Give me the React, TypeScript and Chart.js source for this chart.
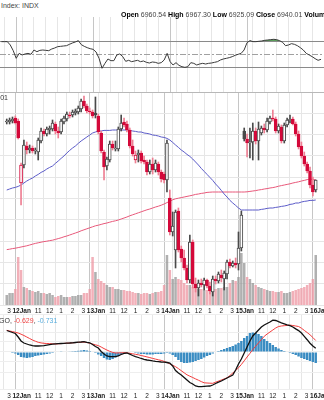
import React, { useEffect, useRef } from 'react';
import { Chart, registerables } from 'chart.js';
Chart.register(...registerables);

const FONT = '"Liberation Sans", Arial, Helvetica, sans-serif';

// ---- time axis (15-minute bars, 26 per session) ----
const FIRST_BAR = -5;
const BAR_COUNT = 109;
const BARS_PER_DAY = 26;
const DAY_LABELS = ['9Jan', '12Jan', '13Jan', '14Jan', '15Jan', '16Jan'];
const HOUR_OFFSETS = [0, 2, 6, 10, 14, 18, 22];
const HOUR_LABELS = ['', '', '11', '12', '1', '2', '3'];
const X_MIN = -5.47;
const X_MAX = 104.0;

// ---- price data ----
const OPEN = [6969, 6969, 6969.5, 6971, 6969.5, 6938.5, 6947.5, 6957, 6955, 6956, 6954.5, 6954, 6959.5, 6964.5, 6963, 6965, 6965.5, 6968, 6964.5, 6964, 6969, 6970.5, 6972.5, 6972.5, 6973.5, 6974, 6975.5, 6979.5, 6977, 6974.5, 6974, 6973.5, 6972, 6963.5, 6954, 6947, 6950, 6958, 6955.5, 6955.5, 6965.5, 6969, 6968, 6965, 6957, 6950, 6952.5, 6953.5, 6950, 6949, 6944, 6948, 6945, 6948, 6944, 6943, 6940, 6931, 6914, 6905, 6924.5, 6905.5, 6901, 6896, 6890, 6909, 6888, 6886, 6888.5, 6887.5, 6890, 6887, 6884, 6890.5, 6889.5, 6892.5, 6890.5, 6893, 6899, 6897, 6898.5, 6898, 6906, 6964.5, 6960.5, 6958.5, 6959, 6964.5, 6959.5, 6963.5, 6966, 6965, 6969, 6971, 6970.5, 6964.5, 6966.5, 6959.5, 6967.5, 6969.5, 6970.5, 6968, 6963, 6957, 6952, 6948, 6944.5, 6937.5, 6935];
const HIGH = [6970.5, 6971, 6971.5, 6972, 6970.5, 6948.5, 6960, 6959, 6957.5, 6957, 6956, 6961, 6966, 6965.5, 6966.5, 6967, 6970, 6969, 6966.5, 6970.5, 6972, 6974, 6974, 6975, 6975.5, 6977, 6980.5, 6982, 6978, 6976, 6975, 6981.5, 6973, 6964.5, 6955, 6951.5, 6959.5, 6959.5, 6959.5, 6966.5, 6972.5, 6971, 6969.5, 6966, 6960, 6954.5, 6955, 6954.5, 6952, 6950, 6950, 6951, 6950, 6949, 6945, 6944, 6960, 6935, 6924, 6925, 6926, 6907, 6905, 6897.5, 6912.5, 6910, 6891, 6890, 6890.5, 6891, 6890.5, 6889, 6892, 6892, 6894, 6895, 6894.5, 6900, 6900.5, 6899.5, 6901, 6914, 6924.5, 6966, 6963, 6966, 6968.5, 6966, 6969, 6967, 6968, 6971, 6972, 6975, 6971.5, 6968, 6967.5, 6968.5, 6971, 6972.5, 6971.5, 6969, 6964.5, 6959, 6954, 6949, 6946.5, 6941.5, 6940];
const LOW = [6968, 6968, 6968.5, 6968, 6960.5, 6927.5, 6946, 6953, 6953.5, 6953.5, 6953, 6950, 6958.5, 6962, 6962, 6963, 6964.5, 6963, 6961, 6963, 6968, 6969.5, 6971, 6971.5, 6972.5, 6973, 6974, 6976, 6973.5, 6973, 6971, 6971, 6963, 6953.5, 6940, 6945, 6949, 6955, 6954.5, 6954.5, 6964.5, 6966.5, 6964, 6956, 6952, 6948.5, 6949, 6948.5, 6948, 6942.5, 6943, 6943, 6944, 6942.5, 6939, 6938.5, 6934, 6912.5, 6912, 6896, 6904, 6899, 6895, 6888.5, 6888.5, 6886, 6884, 6882, 6886.5, 6885, 6886, 6883, 6882, 6888, 6888.5, 6889, 6885, 6890.5, 6896, 6896.5, 6896, 6895, 6904.5, 6959.5, 6951.5, 6951, 6950, 6958, 6950, 6962.5, 6963.5, 6964, 6968, 6969.5, 6963.5, 6963.5, 6958.5, 6958.5, 6966.5, 6968.5, 6967.5, 6962, 6955.5, 6951, 6947, 6943.5, 6936, 6932, 6934];
const CLOSE = [6969.5, 6970, 6970.5, 6968.5, 6961, 6947.5, 6957.5, 6955, 6956, 6954.5, 6955, 6960, 6964.5, 6963, 6965.5, 6966, 6968.5, 6964.5, 6963.5, 6969.5, 6971, 6973, 6972, 6974, 6974.5, 6976, 6979.5, 6977, 6974.5, 6974, 6972, 6972.5, 6964, 6954.5, 6946.5, 6950.5, 6958, 6956, 6956, 6965.5, 6968.5, 6967.5, 6965, 6957, 6953, 6952.5, 6953.5, 6949.5, 6949, 6944, 6948, 6945, 6948.5, 6944, 6940.5, 6940, 6958.5, 6914, 6917, 6924, 6905, 6901, 6896, 6890, 6909, 6888, 6886, 6888.5, 6887.5, 6890, 6887, 6884.5, 6890.5, 6889.5, 6893, 6891, 6893.5, 6899, 6897, 6898.5, 6897.5, 6906, 6922.5, 6960.5, 6958.5, 6959, 6964.5, 6959.5, 6965.5, 6966, 6965, 6969.5, 6971, 6970.5, 6964.5, 6967, 6959.5, 6967.5, 6970, 6970.5, 6968, 6963, 6956.5, 6952, 6948, 6944.5, 6937.5, 6934, 6940];
const SMA50 = [6935, 6935.5, 6936, 6936.3, 6936.8, 6937.5, 6938.5, 6939.5, 6940.3, 6941, 6942, 6942.8, 6943.8, 6944.5, 6945.5, 6946.3, 6947, 6948.3, 6949.5, 6950.8, 6952, 6953.5, 6954.8, 6956, 6957, 6958.3, 6959.5, 6960.5, 6961.5, 6962.5, 6963.5, 6964, 6964.5, 6964.5, 6964.8, 6964.8, 6964.8, 6965, 6965, 6965, 6965, 6965, 6965, 6964.8, 6964.5, 6964.3, 6964, 6964, 6963.5, 6963.3, 6963, 6962.5, 6962.3, 6962, 6961.5, 6961.3, 6960.8, 6960, 6958.8, 6957.5, 6956.3, 6955, 6954, 6952.8, 6951.8, 6950.5, 6949, 6947.5, 6945.8, 6944.3, 6942.8, 6941.3, 6939.8, 6938, 6936.5, 6934.8, 6933, 6931.5, 6929.8, 6928.5, 6927.3, 6926, 6925, 6925, 6925, 6925, 6925, 6925, 6925, 6925.3, 6925.5, 6925.8, 6926, 6926, 6926.3, 6926.5, 6926.8, 6927, 6927.3, 6927.8, 6928, 6928.5, 6928.5, 6929, 6929.3, 6929.5, 6929.8, 6929.8, 6930];
const SMA200 = [6905.2, 6905.4, 6905.7, 6905.9, 6906.2, 6906.5, 6906.8, 6907.1, 6907.5, 6907.9, 6908.3, 6908.6, 6908.9, 6909.2, 6909.4, 6909.7, 6909.9, 6910.3, 6910.7, 6911.1, 6911.6, 6912, 6912.5, 6913, 6913.5, 6914, 6914.6, 6915.1, 6915.6, 6916.1, 6916.6, 6917.1, 6917.4, 6917.8, 6918.2, 6918.5, 6918.9, 6919.3, 6919.6, 6920, 6920.5, 6921, 6921.5, 6922.1, 6922.6, 6923.1, 6923.6, 6924.1, 6924.6, 6925.1, 6925.5, 6926, 6926.5, 6926.9, 6927.4, 6928, 6928.7, 6929.4, 6930.1, 6930.6, 6930.9, 6931.2, 6931.5, 6931.8, 6932.1, 6932.4, 6932.8, 6933, 6933.3, 6933.5, 6933.8, 6933.9, 6934, 6934, 6934, 6934, 6934, 6934, 6934, 6934, 6934, 6934, 6934, 6934, 6934.1, 6934.3, 6934.5, 6934.7, 6935, 6935.2, 6935.5, 6935.7, 6936, 6936.2, 6936.5, 6936.9, 6937.2, 6937.5, 6937.8, 6938.1, 6938.5, 6938.8, 6939.1, 6939.5, 6939.8, 6940.2, 6940.5, 6940.3, 6940.1];
const VOLUME = [100, 120, 120, 160, 480, 350, 180, 170, 150, 140, 130, 140, 120, 120, 110, 120, 100, 80, 90, 100, 80, 80, 80, 90, 90, 100, 100, 120, 120, 160, 480, 330, 260, 240, 220, 200, 180, 180, 160, 160, 150, 150, 140, 140, 130, 120, 120, 110, 120, 120, 110, 120, 130, 130, 140, 200, 500, 350, 260, 280, 260, 250, 220, 200, 200, 180, 180, 160, 160, 150, 150, 160, 150, 160, 170, 170, 180, 180, 220, 250, 240, 280, 520, 420, 280, 260, 220, 200, 180, 170, 160, 150, 140, 140, 130, 130, 140, 120, 120, 130, 140, 150, 160, 170, 180, 200, 220, 260, 500];

// ---- indicators ----
const RSI = [69.2, 69.2, 69.2, 64.2, 55.7, 44.3, 51.7, 49.3, 50.8, 51.7, 50.3, 56.7, 54.2, 56.2, 56.7, 56.2, 55.7, 58.2, 59.7, 61.7, 62.2, 62.7, 63.2, 65.2, 67.2, 68.7, 70.7, 64.7, 62.2, 60.2, 58.7, 57.7, 53.7, 44.3, 29.4, 36.8, 43.3, 40.8, 40.8, 49.3, 50.8, 46.8, 39.8, 41.3, 39.3, 40.3, 41.3, 39.3, 40.3, 38.3, 37.3, 38.8, 38.3, 36.8, 37.8, 41.8, 51.7, 39.3, 34.3, 37.8, 33.8, 31.8, 30.8, 31.8, 37.8, 36.8, 34.3, 35.8, 36.8, 35.8, 36.8, 37.3, 38.3, 39.3, 41.8, 43.3, 44.3, 45.3, 46.8, 48.8, 50.3, 51.7, 56.7, 67.7, 70.7, 69.2, 69.2, 69.7, 70.2, 71.2, 71.7, 72.2, 72.7, 72.2, 70.7, 68.2, 63.2, 64.2, 66.2, 65.2, 63.2, 60.2, 56.7, 51.7, 49.3, 46.8, 43.8, 41.3, 42.8];
const MACD = [2.15, 2.05, 1.95, 1.85, 1.5, 1.1, 0.9, 0.8, 0.7, 0.63, 0.6, 0.6, 0.62, 0.63, 0.68, 0.73, 0.78, 0.81, 0.83, 0.85, 0.87, 0.89, 0.9, 0.92, 0.95, 0.98, 1.0, 1.03, 0.97, 0.92, 0.75, 0.55, 0.4, 0.05, -0.2, -0.4, -0.47, -0.47, -0.47, -0.38, -0.25, -0.13, -0.1, -0.22, -0.35, -0.46, -0.55, -0.65, -0.73, -0.8, -0.84, -0.89, -0.93, -0.96, -1.0, -1.02, -1.05, -1.1, -1.4, -1.85, -2.1, -2.3, -2.55, -2.8, -3.05, -3.2, -3.4, -3.47, -3.46, -3.44, -3.42, -3.4, -3.3, -3.15, -3.02, -2.9, -2.75, -2.6, -2.45, -2.3, -1.8, -1.2, -0.7, -0.1, 0.5, 1.1, 1.6, 1.9, 2.2, 2.5, 2.7, 2.85, 3.0, 3.18, 3.15, 3.03, 2.92, 2.82, 2.72, 2.63, 2.5, 2.31, 2.14, 1.9, 1.56, 1.23, 0.88, 0.6, 0.37];
const SIGNAL = [2.17, 2.1, 2.04, 1.97, 1.9, 1.78, 1.65, 1.5, 1.35, 1.2, 1.08, 0.97, 0.91, 0.87, 0.85, 0.84, 0.82, 0.8, 0.82, 0.84, 0.86, 0.88, 0.9, 0.92, 0.94, 0.96, 0.98, 0.99, 0.95, 0.88, 0.8, 0.72, 0.64, 0.5, 0.34, 0.2, 0.07, -0.04, -0.1, -0.09, -0.08, -0.07, -0.08, -0.13, -0.18, -0.23, -0.28, -0.35, -0.42, -0.49, -0.56, -0.64, -0.71, -0.78, -0.84, -0.94, -1.05, -1.19, -1.33, -1.47, -1.66, -1.87, -2.08, -2.28, -2.42, -2.55, -2.69, -2.82, -2.96, -3.08, -3.1, -3.12, -3.13, -3.02, -2.91, -2.8, -2.69, -2.58, -2.35, -2.1, -1.85, -1.58, -1.25, -0.88, -0.5, -0.14, 0.24, 0.58, 0.91, 1.24, 1.57, 1.8, 2.0, 2.2, 2.4, 2.55, 2.6, 2.63, 2.66, 2.69, 2.65, 2.6, 2.55, 2.38, 2.16, 1.95, 1.72, 1.45, 1.15];
const HIST = [0, -0.05, -0.1, -0.15, -0.3, -0.5, -0.55, -0.6, -0.55, -0.5, -0.4, -0.35, -0.3, -0.25, -0.2, -0.15, -0.1, -0.05, 0, 0.03, 0.05, 0.05, 0.06, 0.08, 0.1, 0.12, 0.15, 0.2, 0.15, 0.1, 0.05, -0.1, -0.25, -0.4, -0.6, -0.75, -0.8, -0.7, -0.55, -0.4, -0.25, -0.1, 0.05, 0.05, -0.05, -0.1, -0.15, -0.2, -0.2, -0.25, -0.25, -0.25, -0.2, -0.2, -0.2, -0.15, -0.1, -0.15, -0.3, -0.5, -0.8, -1.0, -1.1, -1.1, -1.05, -1.0, -0.9, -0.8, -0.7, -0.55, -0.4, -0.3, -0.15, 0, 0.1, 0.2, 0.3, 0.4, 0.5, 0.6, 0.75, 0.9, 1.1, 1.4, 1.6, 1.9, 1.95, 1.9, 1.8, 1.6, 1.3, 1.1, 0.9, 0.7, 0.5, 0.35, 0.2, 0.1, 0, -0.1, -0.2, -0.3, -0.45, -0.6, -0.7, -0.8, -0.9, -1.0, -1.1];

const RSI_LEVELS = [30, 70];
const RSI_MID = 50;

// ---- derived helpers ----
const BARS = Array.from({ length: BAR_COUNT }, (_, i) => FIRST_BAR + i);
const TICKS: { v: number; label: string; day: boolean }[] = [];
DAY_LABELS.forEach((d, di) => {
  HOUR_OFFSETS.forEach((h, hi) => {
    const v = (di - 1) * BARS_PER_DAY + h;
    if (v >= X_MIN && v <= X_MAX + 0.01) TICKS.push({ v, label: hi === 0 ? d : HOUR_LABELS[hi], day: hi === 0 });
  });
});
const tickInfo = (v: number) => TICKS.find((t) => Math.abs(t.v - v) < 1e-6);
// small visual nudges: day labels sit a touch right of their line, "3" a touch left
const tickText = (t: { label: string; day: boolean } | undefined) => {
  if (!t) return '';
  if (t.day) return '\u2009' + t.label;
  if (t.label === '3') return t.label + '\u2009';
  return t.label;
};

const RED = '#d4093a';
const RED_WICK = '#ee7f93';
const DARK = '#4a4a4a';

function xScale(showLabels: boolean, labelHeight: number, pad: number): any {
  return {
    type: 'linear',
    min: X_MIN,
    max: X_MAX,
    afterBuildTicks: (s: any) => {
      s.ticks = TICKS.map((t) => ({ value: t.v }));
    },
    afterFit: (s: any) => {
      s.height = labelHeight;
      s.paddingLeft = 0;
      s.paddingRight = 0;
    },
    border: { display: false },
    grid: {
      drawTicks: false,
      lineWidth: 1,
      color: (c: any) => (c.tick && tickInfo(c.tick.value)?.day ? '#c6c6c6' : '#e6e6e6'),
    },
    ticks: {
      display: showLabels,
      autoSkip: false,
      maxRotation: 0,
      padding: pad,
      color: '#222',
      font: (c: any) => ({ family: FONT, size: 6.5, weight: c.tick && tickInfo(c.tick.value)?.day ? 'bold' : 'normal' }),
      callback: (v: any) => tickText(tickInfo(Number(v))),
    },
  };
}

const baseOpts = {
  animation: false as const,
  responsive: false,
  events: [] as any[],
  layout: { padding: 0 },
  plugins: { legend: { display: false }, tooltip: { enabled: false } },
};

export default function App() {
  const rsiRef = useRef<HTMLCanvasElement>(null);
  const priceRef = useRef<HTMLCanvasElement>(null);
  const macdRef = useRef<HTMLCanvasElement>(null);

  useEffect(() => {
    Chart.defaults.font.family = FONT;
    const charts: Chart[] = [];

    // RSI panel
    charts.push(
      new Chart(rsiRef.current!, {
        type: 'line',
        data: {
          datasets: [
            {
              data: BARS.map((b, i) => ({ x: b, y: RSI[i] })),
              borderColor: '#3a3a3a',
              borderWidth: 1,
              pointRadius: 0,
              fill: { target: { value: 70 }, above: '#5b9e5b', below: 'rgba(0,0,0,0)' },
              order: 1,
            } as any,
            {
              data: [
                { x: X_MIN, y: RSI_MID },
                { x: X_MAX, y: RSI_MID },
              ],
              borderColor: '#a0a0a0',
              borderWidth: 1,
              borderDash: [6, 2, 2, 2],
              pointRadius: 0,
              order: 2,
            },
          ],
        },
        options: {
          ...baseOpts,
          scales: {
            x: xScale(false, 0, 0),
            y: {
              type: 'linear',
              min: -6,
              max: 106,
              position: 'right',
              afterBuildTicks: (s: any) => {
                s.ticks = RSI_LEVELS.map((v) => ({ value: v }));
              },
              afterFit: (s: any) => {
                s.width = 0;
              },
              ticks: { display: false },
              border: { display: false },
              grid: { drawTicks: false, color: '#8a8a8a' },
            },
          },
        } as any,
      })
    );

    // Price + volume panel
    const colorOf = (i: number) => {
      const prev = i > 0 ? CLOSE[i - 1] : OPEN[i];
      return CLOSE[i] >= prev ? 'dark' : 'red';
    };
    const PMIN = 6877.5;
    const PMAX = 6984;
    charts.push(
      new Chart(priceRef.current!, {
        type: 'bar',
        data: {
          datasets: [
            {
              type: 'bar',
              data: BARS.map((b, i) => ({ x: b, y: [OPEN[i], CLOSE[i]] })),
              backgroundColor: BARS.map((_, i) => (CLOSE[i] >= OPEN[i] ? '#ffffff' : colorOf(i) === 'red' ? RED : DARK)),
              borderColor: BARS.map((_, i) => (colorOf(i) === 'red' ? RED : DARK)),
              borderWidth: 1,
              borderSkipped: false,
              barThickness: 3,
              minBarLength: 1,
              grouped: false,
              yAxisID: 'y',
              order: 1,
            } as any,
            {
              type: 'bar',
              data: BARS.map((b, i) => ({ x: b, y: [LOW[i], HIGH[i]] })),
              backgroundColor: BARS.map((_, i) => (colorOf(i) === 'red' ? RED_WICK : DARK)),
              borderWidth: 0,
              barThickness: 1,
              grouped: false,
              yAxisID: 'y',
              order: 2,
            } as any,
            {
              type: 'line',
              data: BARS.map((b, i) => ({ x: b, y: SMA50[i] })),
              borderColor: '#5b5bc8',
              borderWidth: 1,
              pointRadius: 0,
              yAxisID: 'y',
              order: 3,
            } as any,
            {
              type: 'line',
              data: BARS.map((b, i) => ({ x: b, y: SMA200[i] })),
              borderColor: '#e8587a',
              borderWidth: 1,
              pointRadius: 0,
              yAxisID: 'y',
              order: 4,
            } as any,
            {
              type: 'bar',
              data: BARS.map((b, i) => ({ x: b, y: VOLUME[i] })),
              backgroundColor: BARS.map((_, i) => (colorOf(i) === 'red' ? 'rgba(238,150,162,0.75)' : 'rgba(150,150,150,0.75)')),
              borderWidth: 0,
              barPercentage: 0.88,
              categoryPercentage: 1,
              grouped: false,
              yAxisID: 'yv',
              order: 10,
            } as any,
          ],
        },
        options: {
          ...baseOpts,
          scales: {
            x: xScale(true, 9, 2),
            y: {
              type: 'linear',
              min: PMIN,
              max: PMAX,
              position: 'right',
              afterBuildTicks: (s: any) => {
                s.ticks = Array.from({ length: 11 }, (_, k) => ({ value: PMIN + ((PMAX - PMIN) * k) / 10 }));
              },
              afterFit: (s: any) => {
                s.width = 0;
              },
              ticks: { display: false },
              border: { display: false },
              grid: { drawTicks: false, color: (c: any) => (c.index === 10 ? '#b8b8b8' : '#e6e6e6') },
            },
            yv: {
              type: 'linear',
              display: false,
              min: 0,
              max: 2130,
            },
          },
        } as any,
      })
    );

    // MACD panel
    charts.push(
      new Chart(macdRef.current!, {
        type: 'bar',
        data: {
          datasets: [
            {
              type: 'line',
              data: BARS.map((b, i) => ({ x: b, y: MACD[i] })),
              borderColor: '#111111',
              borderWidth: 1.3,
              pointRadius: 0,
              order: 1,
            } as any,
            {
              type: 'line',
              data: BARS.map((b, i) => ({ x: b, y: SIGNAL[i] })),
              borderColor: '#f23c3c',
              borderWidth: 1,
              pointRadius: 0,
              order: 2,
            } as any,
            {
              type: 'bar',
              data: BARS.map((b, i) => ({ x: b, y: HIST[i] })),
              backgroundColor: '#3a8cc2',
              borderWidth: 0,
              barPercentage: 0.85,
              categoryPercentage: 1,
              grouped: false,
              order: 3,
            } as any,
          ],
        },
        options: {
          ...baseOpts,
          scales: {
            x: xScale(true, 11, 3),
            y: {
              type: 'linear',
              min: -3.7,
              max: 3.8,
              position: 'right',
              afterFit: (s: any) => {
                s.width = 0;
              },
              ticks: { display: false, stepSize: 1 },
              border: { display: false },
              grid: { drawTicks: false, color: '#eeeeee' },
            },
          },
        } as any,
      })
    );

    return () => charts.forEach((c) => c.destroy());
  }, []);

  const abs = (l: number, t: number): React.CSSProperties => ({ position: 'absolute', left: l, top: t, whiteSpace: 'nowrap', lineHeight: 1 });

  return (
    <div style={{ position: 'fixed', left: 0, top: 0, width: 324, height: 400, overflow: 'hidden', background: '#fff', fontFamily: FONT }}>
      <canvas ref={rsiRef} width={324} height={75} style={{ position: 'absolute', left: 0, top: 17 }} />
      <canvas ref={priceRef} width={324} height={222} style={{ position: 'absolute', left: 0, top: 92 }} />
      <canvas ref={macdRef} width={324} height={86} style={{ position: 'absolute', left: 0, top: 314 }} />
      <div style={{ ...abs(1, 2), fontSize: 7, color: '#444' }}>Index: INDX</div>
      <div style={{ ...abs(121, 11), fontSize: 7, color: '#444' }}>
        <b style={{ color: '#000' }}>Open</b> 6960.54 <b style={{ color: '#000' }}>High</b> 6967.30 <b style={{ color: '#000' }}>Low</b> 6925.09{' '}
        <b style={{ color: '#000' }}>Close</b> 6940.01 <b style={{ color: '#000' }}>Volume</b>
      </div>
      <div style={{ ...abs(-30, 94), width: 38, textAlign: 'right', fontSize: 7, color: '#333' }}>6940.01</div>
      <div style={{ ...abs(-1, 317), fontSize: 7, color: '#333' }}>
        GO, <span style={{ color: '#f04848' }}>-0.629</span>, <span style={{ color: '#5aaede' }}>-0.731</span>
      </div>
    </div>
  );
}
